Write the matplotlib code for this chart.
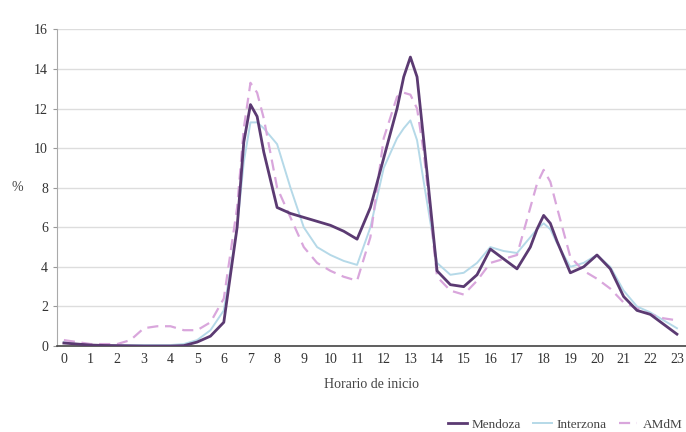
import matplotlib
matplotlib.use("Agg")
import matplotlib.pyplot as plt

# Hour of day (readings at half-hour resolution, quarter-hours near the peaks)
hours = [0, 0.5, 1, 1.5, 2, 2.5, 3, 3.5, 4, 4.5, 5, 5.5, 6, 6.5, 6.75, 7, 7.25, 7.5, 8, 8.5, 9, 9.5,
         10, 10.5, 11, 11.5, 12, 12.5, 12.75, 13, 13.25, 13.5, 14, 14.5, 15, 15.5, 16, 16.5, 17, 17.5,
         17.75, 18, 18.25, 18.5, 19, 19.5, 20, 20.5, 21, 21.5, 22, 22.5, 23]

mendoza = [0.15, 0.1, 0.05, 0.03, 0.02, 0.01, 0.0, 0.0, 0.0, 0.02, 0.2, 0.5, 1.2, 6.0, 10.3, 12.2, 11.6, 9.8,
           7.0, 6.7, 6.5, 6.3, 6.1, 5.8, 5.4, 7.0, 9.5, 12.0, 13.6, 14.6, 13.6, 10.4, 3.8, 3.1, 3.0, 3.6,
           4.9, 4.4, 3.9, 5.0, 5.9, 6.6, 6.2, 5.3, 3.7, 4.0, 4.6, 3.9, 2.5, 1.8, 1.6, 1.1, 0.6]

interzona = [0.2, 0.1, 0.05, 0.05, 0.05, 0.05, 0.05, 0.05, 0.05, 0.1, 0.3, 0.8, 1.8, 6.0, 9.3, 11.3, 11.3, 11.0,
             10.2, 8.0, 6.0, 5.0, 4.6, 4.3, 4.1, 6.0, 9.0, 10.5, 11.0, 11.4, 10.4, 8.3, 4.2, 3.6, 3.7, 4.2,
             5.0, 4.8, 4.7, 5.5, 5.9, 6.2, 5.9, 5.2, 4.0, 4.2, 4.6, 4.0, 2.8, 2.0, 1.7, 1.3, 0.9]

amdm = [0.3, 0.2, 0.1, 0.1, 0.1, 0.3, 0.9, 1.0, 1.0, 0.8, 0.8, 1.2, 2.4, 7.0, 11.0, 13.3, 12.8, 11.5,
        8.0, 6.5, 5.0, 4.2, 3.8, 3.5, 3.3, 5.5, 10.5, 12.6, 12.8, 12.7, 12.0, 9.8, 3.5, 2.8, 2.6, 3.3,
        4.2, 4.4, 4.6, 7.0, 8.2, 8.9, 8.3, 7.0, 4.5, 3.8, 3.4, 2.9, 2.2, 1.9, 1.6, 1.4, 1.3]

hour_ticks = list(range(24))
y_ticks = [0, 2, 4, 6, 8, 10, 12, 14, 16]

plt.rcParams['font.family'] = ['Liberation Serif', 'DejaVu Serif']

fig = plt.figure(figsize=(6.86, 4.32), dpi=100)
ax = fig.add_axes([0.083, 0.199, 0.917, 0.733])

ax.plot(hours, interzona, color='#b5d9e8', lw=1.4, label='Interzona', zorder=2,
        solid_joinstyle='round')
ax.plot(hours, amdm, color='#d9a6dc', lw=1.6, ls=(0, (5, 3)), label='AMdM', zorder=3)
ax.plot(hours, mendoza, color='#5b3a72', lw=2.0, label='Mendoza', zorder=4,
        solid_joinstyle='round')

ax.set_xlim(-0.26, 23.34)
ax.set_ylim(0, 16)
ax.set_xticks(hour_ticks)
ax.set_yticks(y_ticks)
ax.tick_params(axis='both', labelsize=10, colors='#333333', length=3)
ax.tick_params(axis='y', colors='#999999', labelcolor='#333333')
ax.tick_params(axis='x', length=0, pad=5)
ax.grid(axis='y', color='#dddddd', lw=1)
ax.set_axisbelow(True)
for s in ['top', 'right']:
    ax.spines[s].set_visible(False)
ax.spines['left'].set_color('#aaaaaa')
ax.spines['bottom'].set_color('#444444')
ax.spines['bottom'].set_linewidth(1.2)

ax.set_xlabel('Horario de inicio', fontsize=10, color='#444444', labelpad=9)
ax.set_ylabel('%', fontsize=10, color='#444444', rotation=0, labelpad=12, va='center')

handles, labels = ax.get_legend_handles_labels()
order = [2, 0, 1]
fig.legend([handles[i] for i in order], [labels[i] for i in order],
           loc='lower right', bbox_to_anchor=(1.012, -0.025), ncol=3, frameon=False,
           fontsize=9.5, handlelength=1.4, columnspacing=0.9, handletextpad=0.4,
           labelcolor='#444444')

fig.savefig('out.png', dpi=100)
